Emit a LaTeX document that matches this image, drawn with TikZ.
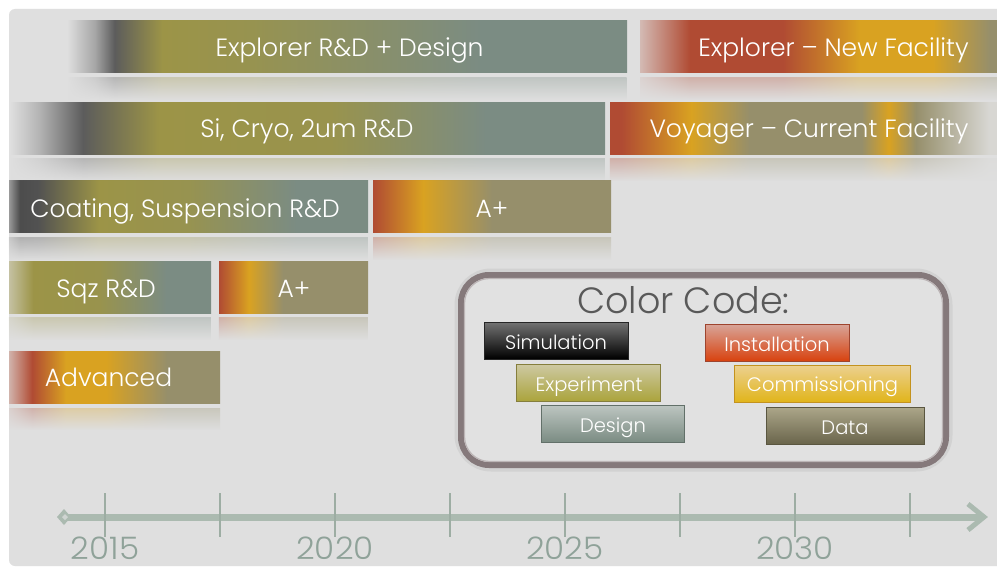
\documentclass[tikz,border=0pt]{standalone}
\usepackage{fontspec}
\setmainfont{Poppins Light}
\usetikzlibrary{fadings,shadings}
\definecolor{bg}{HTML}{DFDFDF}
\definecolor{ol}{HTML}{9C9447}
\definecolor{gg}{HTML}{7B8C83}
\definecolor{rd}{HTML}{B04B33}
\definecolor{orng}{HTML}{D9A221}
\definecolor{og}{HTML}{968F6B}
\definecolor{dk}{HTML}{5C5C5C}
\definecolor{tl}{HTML}{ABBAB0}
\definecolor{tk}{HTML}{9DADA3}
\definecolor{yr}{HTML}{8FA299}
\definecolor{frm}{HTML}{85797B}
\pgfdeclarehorizontalshading{shA}{100bp}{color(0bp)=(bg); color(25bp)=(bg); color(27.5bp)=(black!35); color(29.25bp)=(dk); color(33.5bp)=(ol); color(41.5bp)=(ol!85!gg); color(55bp)=(ol!30!gg); color(62bp)=(gg); color(100bp)=(gg)}
\pgfdeclarehorizontalshading{shB}{100bp}{color(0bp)=(rd!25!bg); color(25bp)=(rd!25!bg); color(32bp)=(rd); color(45bp)=(rd); color(55.8bp)=(orng); color(66bp)=(orng); color(74bp)=(og); color(100bp)=(og)}
\pgfdeclarehorizontalshading{shC}{100bp}{color(0bp)=(bg); color(25bp)=(bg); color(27.5bp)=(black!30); color(31.15bp)=(dk); color(37.5bp)=(ol); color(52bp)=(ol!90!gg); color(65bp)=(gg); color(100bp)=(gg)}
\pgfdeclarehorizontalshading{shD}{100bp}{color(0bp)=(rd); color(26.5bp)=(rd); color(35.5bp)=(orng); color(43bp)=(og); color(57.5bp)=(og); color(61bp)=(orng); color(64.5bp)=(og); color(74bp)=(bg!90!og); color(100bp)=(bg!90!og)}
\pgfdeclarehorizontalshading{shE}{100bp}{color(0bp)=(black!40); color(25bp)=(black!40); color(26.5bp)=(black!70); color(29bp)=(black!68); color(37.5bp)=(ol); color(50bp)=(ol!85!gg); color(65bp)=(gg); color(100bp)=(gg)}
\pgfdeclarehorizontalshading{shF}{100bp}{color(0bp)=(rd); color(25bp)=(rd); color(35.5bp)=(orng); color(50bp)=(og); color(100bp)=(og)}
\pgfdeclarehorizontalshading{shG}{100bp}{color(0bp)=(bg!60!ol); color(25bp)=(bg!60!ol); color(31bp)=(ol); color(47.5bp)=(ol!90!gg); color(64bp)=(gg); color(100bp)=(gg)}
\pgfdeclarehorizontalshading{shH}{100bp}{color(0bp)=(rd); color(25bp)=(rd); color(35bp)=(orng); color(46.5bp)=(og); color(100bp)=(og)}
\pgfdeclarehorizontalshading{shI}{100bp}{color(0bp)=(rd!30!bg); color(25bp)=(rd!30!bg); color(30.5bp)=(rd); color(38.5bp)=(orng); color(48bp)=(orng); color(62.5bp)=(og); color(100bp)=(og)}
\newcommand\mkrefl[4]{\shade[shading=#1, path fading=south, opacity=.3] (#2,#4) rectangle (#3,#4+22);}
\begin{document}
\begin{tikzpicture}[x=1pt,y=-1pt,
  bar/.style={shade, inner sep=0pt, outer sep=0pt, minimum height=52pt},
  bartext/.style={anchor=base, inner sep=0pt, text=white, font=\fontsize{25}{28}\selectfont},
  legbox/.style={shade, inner sep=0pt, minimum height=37pt, line width=0.8pt},
  legtext/.style={anchor=base, inner sep=0pt, text=white, font=\fontsize{19.5}{22}\selectfont},
  yearlbl/.style={anchor=base, inner sep=0pt, text=yr, font=\fontsize{31}{33}\selectfont},
  tick/.style={draw=tk, line width=1.6pt}]
\useasboundingbox (0,0) rectangle (997,567);
\fill[white] (0,0) rectangle (997,567);
\fill[bg, rounded corners=6pt] (9,9) rectangle (1010,566);
% bars
\node[bar, shading=shA, minimum width=560pt] (b1) at (347,47) {};
\node[bar, shading=shB, minimum width=357pt] (b2) at (818.5,47) {};
\node[bar, shading=shC, minimum width=595pt] (b3) at (307.5,129) {};
\node[bar, shading=shD, minimum width=387pt] (b4) at (803.5,129) {};
\node[bar, shading=shE, minimum width=359pt] (b5) at (188.5,207) {};
\node[bar, shading=shF, minimum width=238pt] (b6) at (492,207) {};
\node[bar, shading=shG, minimum width=202pt] (b7) at (110,287) {};
\node[bar, shading=shH, minimum width=149pt] (b8) at (293.5,287) {};
\node[bar, shading=shI, minimum width=211pt] (b9) at (114.5,377) {};
% reflections
\mkrefl{shA}{67}{627}{78}
\mkrefl{shB}{640}{997}{78}
\mkrefl{shC}{10}{605}{159}
\mkrefl{shD}{610}{997}{159}
\mkrefl{shE}{9}{368}{238}
\mkrefl{shF}{373}{611}{238}
\mkrefl{shG}{9}{211}{318}
\mkrefl{shH}{219}{368}{318}
\mkrefl{shI}{9}{220}{408}
% bar texts
\node[bartext] (t1) at (349.5,57) {Explorer R\&D + Design};
\node[bartext] (t2) at (833.5,57) {Explorer – New Facility};
\node[bartext] (t3) at (307,138) {Si, Cryo, 2um R\&D};
\node[bartext] (t4) at (809,138) {Voyager – Current Facility};
\node[bartext] (t5) at (185,218) {Coating, Suspension R\&D};
\node[bartext] (t6) at (492,218) {A+};
\node[bartext] (t7) at (106,297) {Sqz R\&D};
\node[bartext] (t8) at (294,297) {A+};
\node[bartext] (t9) at (108.5,386) {Advanced};
% colour code frame
\draw[line width=13pt, black!40, opacity=.18, rounded corners=30pt] (461,275) rectangle (946,465);
\node[draw=frm, line width=6pt, fill=bg!95!white, rounded corners=28pt, minimum width=485pt, minimum height=190pt, inner sep=0pt] (frame) at (703.5,370) {};
\draw[line width=1.2pt, frm!55!white, rounded corners=25pt] (464.5,278.5) rectangle (942.5,461.5);
\node[anchor=base, inner sep=0pt, text=black!65, font=\fontsize{36.5}{40}\selectfont] (cc) at (683.5,313) {Color Code:};
\node[legbox, minimum width=144pt, draw=black!85, top color=black!55, middle color=black, bottom color=black] (lsim) at (556,340.5) {};
\node[legbox, minimum width=144pt, draw=ol!85!black, top color=ol!50!white, middle color=ol!80!yellow, bottom color=ol!85!yellow] (lexp) at (588,382.5) {};
\node[legbox, minimum width=143pt, draw=gg!80!black, top color=gg!50!white, middle color=gg!95!white, bottom color=gg] (ldes) at (612.5,423.5) {};
\node[legbox, minimum width=144pt, draw=rd!90!black, top color=rd!50!white, middle color={rgb,255:red,213;green,80;blue,42}, bottom color={rgb,255:red,216;green,66;blue,15}] (lins) at (777,342.5) {};
\node[legbox, minimum width=176pt, draw=orng!90!black, top color=orng!50!white, middle color=orng!90!yellow, bottom color=orng!80!yellow] (lcom) at (822,383.5) {};
\node[legbox, minimum width=158pt, draw=og!60!black, top color=og!80!white, middle color=og!75!black, bottom color=og!70!black] (ldat) at (845,426) {};
\node[legtext] (tsim) at (556,349) {Simulation};
\node[legtext] (texp) at (589,391) {Experiment};
\node[legtext] (tdes) at (613,432) {Design};
\node[legtext] (tins) at (777,351) {Installation};
\node[legtext] (tcom) at (822.5,391) {Commissioning};
\node[legtext] (tdat) at (845,434) {Data};
% timeline
\coordinate (tlL) at (64,517);
\coordinate (tlR) at (980,517);
\draw[tl, line width=7pt] (tlL) -- (tlR);
\fill[tl] (57,517) -- (64,509) -- (71,517) -- (64,525) -- cycle;
\fill[bg!70!tl] (62,517) -- (65,514) -- (68,517) -- (65,520) -- cycle;
\draw[tl, line width=5pt] (968,504) -- (984,517) -- (968,530);
\foreach \i/\x in {1/105,2/220,3/335,4/450,5/565,6/680,7/795,8/910}{
  \coordinate (tka\i) at (\x,493);
  \coordinate (tkb\i) at (\x,537);
  \draw[tick] (tka\i) -- (tkb\i);
}
\node[yearlbl] (y1) at (105,559) {\scalebox{1.05}[1]{2015}};
\node[yearlbl] (y2) at (335,559) {\scalebox{1.05}[1]{2020}};
\node[yearlbl] (y3) at (565,559) {\scalebox{1.05}[1]{2025}};
\node[yearlbl] (y4) at (795,559) {\scalebox{1.05}[1]{2030}};
\end{tikzpicture}
\end{document}
